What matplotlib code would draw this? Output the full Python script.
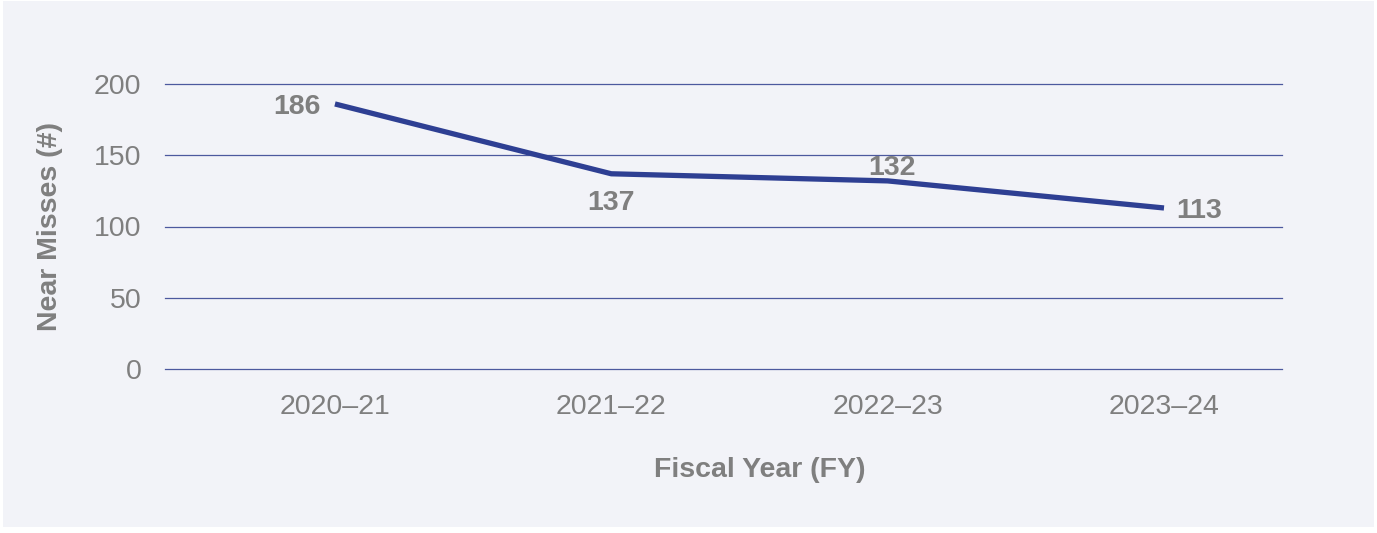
import matplotlib
matplotlib.use('Agg')
import matplotlib.pyplot as plt
import matplotlib.patches as mpatches

years = ['2020–21', '2021–22', '2022–23', '2023–24']
near_misses = [186, 137, 132, 113]

bg = '#F2F3F8'
grey = '#7F7F7F'
navy = '#2E3F93'

plt.rcParams['font.family'] = ['Liberation Sans', 'DejaVu Sans']

fig = plt.figure(figsize=(13.77, 5.33), dpi=100, facecolor='white')
# light panel behind the chart, white margin round it
fig.patches.append(mpatches.Rectangle((3 / 1377, 6 / 533), 1371 / 1377, 526 / 533,
                                      transform=fig.transFigure, facecolor=bg,
                                      edgecolor='none', zorder=-10))

ax = fig.add_axes([165 / 1377, 1 - 369 / 533, 1117 / 1377, 285 / 533])
ax.set_facecolor('none')
ax.set_zorder(5)

x = list(range(len(years)))
ax.plot(x, near_misses, color=navy, linewidth=3.8, solid_capstyle='butt', zorder=3)

ax.set_ylim(0, 200)
ax.set_xlim(-0.615, 3.427)
ax.set_yticks([0, 50, 100, 150, 200])
ax.set_xticks(x)
ax.set_xticklabels(years)
ax.grid(axis='y', color='#3A4894', linewidth=0.9, alpha=0.9)
for gl in ax.get_ygridlines():
    gl.set_clip_on(False)
ax.set_axisbelow(True)
for s in ax.spines.values():
    s.set_visible(False)
ax.tick_params(axis='both', length=0, labelsize=20.5, labelcolor=grey)
ax.tick_params(axis='y', pad=17)
ax.tick_params(axis='x', pad=18)

ax.set_ylabel('Near Misses (#)', fontsize=20.5, fontweight='bold', color=grey)
ax.yaxis.set_label_coords(-0.091, 0.5)
ax.set_xlabel('Fiscal Year (FY)', fontsize=20.5, fontweight='bold', color=grey)
ax.xaxis.set_label_coords((760 - 165) / 1117, -0.309)

# data labels, offsets in points
offsets = [(-10, -2, 'right', 'center'), (0, -21, 'center', 'center'),
           (3, 9.5, 'center', 'center'), (9, -2, 'left', 'center')]
for xi, v, (dx, dy, ha, va) in zip(x, near_misses, offsets):
    ax.annotate(str(v), (xi, v), xytext=(dx, dy), textcoords='offset points',
                ha=ha, va=va, fontsize=20.5, fontweight='bold', color=grey)

fig.savefig('out.png', dpi=100, facecolor=fig.get_facecolor())
